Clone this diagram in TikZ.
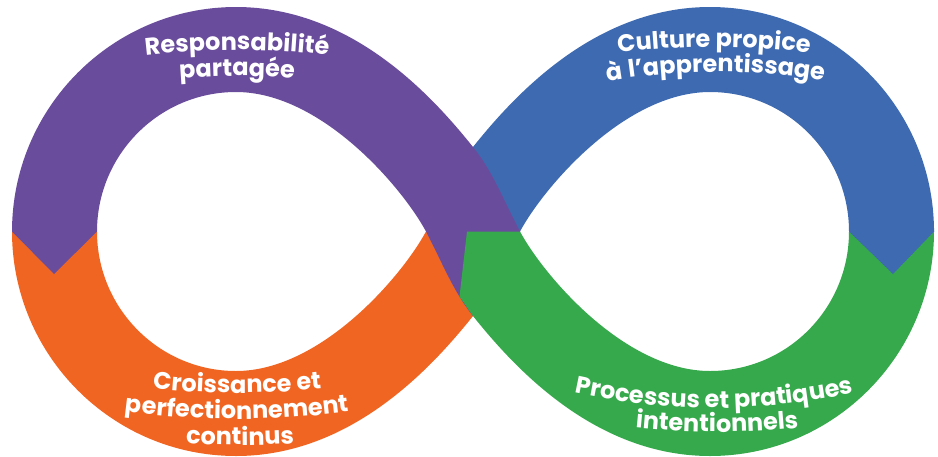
\documentclass[tikz,border=0pt]{standalone}
\usepackage{fontspec}
\setmainfont{Poppins}
\usetikzlibrary{decorations.text}

\definecolor{loopPurple}{HTML}{6A4C9C}
\definecolor{loopBlue}{HTML}{3E6AB1}
\definecolor{loopOrange}{HTML}{F16522}
\definecolor{loopGreen}{HTML}{35A94B}

\newcommand\bandfont{\color{white}\fontsize{24}{28}\selectfont\bfseries}
% #1 centre x, #2 baseline y at the middle, #3 sagitta over a half-width of 200
% (positive: arched, negative: hanging), #4 text
\newcommand\looplabel[4]{%
  \path[decorate,decoration={text along path,text align=center,
        text={|\bandfont|#4}}]
    ({#1-200},{#2+(#3)}) .. controls ({#1-66.7},{#2-(#3)/3})
      and ({#1+66.7},{#2-(#3)/3}) .. ({#1+200},{#2+(#3)});}

\begin{document}
\begin{tikzpicture}[x=1pt,y=-1pt]
\useasboundingbox (0,0) rectangle (938,456);

% orange: lower half of the left loop, running on under the crossing
\fill[loopOrange] (12,231.5) .. controls (12,355.2) and (112.3,456) .. (236,456)
  .. controls (352,456) and (433,366) .. (473,316)
  .. controls (493,291) and (503,264) .. (520,231.5)
  -- (426,231.5)
  .. controls (402,276) and (321,371) .. (236,371)
  .. controls (159.2,371) and (97,308.3) .. (97,231.5) -- cycle;

% blue: upper half of the right loop, coming out from under the crossing
\fill[loopBlue] (426,231.5) .. controls (443,199) and (453,172) .. (473,147)
  .. controls (513,97) and (594,7) .. (710,7)
  .. controls (833.7,7) and (934,107.8) .. (934,231.5)
  -- (849,231.5)
  .. controls (849,154.7) and (787,92) .. (710,92)
  .. controls (625,92) and (544,187) .. (520,231.5) -- cycle;

% purple: upper half of the left loop, crossing over towards the right
\fill[loopPurple] (12,231.5) .. controls (12,107.8) and (112.3,7) .. (236,7)
  .. controls (352,7) and (433,97) .. (473,147)
  .. controls (493,172) and (503,199) .. (520,231.5)
  -- (473,316)
  .. controls (453,291) and (443,264) .. (426,231.5)
  .. controls (402,187) and (321,92) .. (236,92)
  .. controls (159.2,92) and (97,154.7) .. (97,231.5)
  -- (54,274) -- cycle;

% green: lower half of the right loop, ending in a notch on the purple band
\fill[loopGreen] (520,231.5) .. controls (544,276) and (625,371) .. (710,371)
  .. controls (787,371) and (849,308.7) .. (849,231.5)
  -- (934,231.5)
  .. controls (934,355.2) and (833.7,456) .. (710,456)
  .. controls (594,456) and (513,366) .. (473,316)
  -- (459.5,296.5) -- (467,231.5) -- cycle;

% blue arrow tip pointing into the green band
\fill[loopBlue] (849,228) -- (849,231.5) -- (893,274) -- (934,231.5) -- (934,228) -- cycle;

% labels
\looplabel{237}{50}{25}{Responsabilité}
\looplabel{237}{76}{27}{partagée}
\looplabel{714}{47}{25}{Culture propice}
\looplabel{716}{72}{31}{à l’apprentissage}
\looplabel{237}{393}{-25}{Croissance et}
\looplabel{237}{419}{-23}{perfectionnement}
\looplabel{240}{445}{-22}{continus}
\looplabel{714}{408}{-31}{Processus et pratiques}
\looplabel{717}{432}{-25}{intentionnels}
\end{tikzpicture}
\end{document}
